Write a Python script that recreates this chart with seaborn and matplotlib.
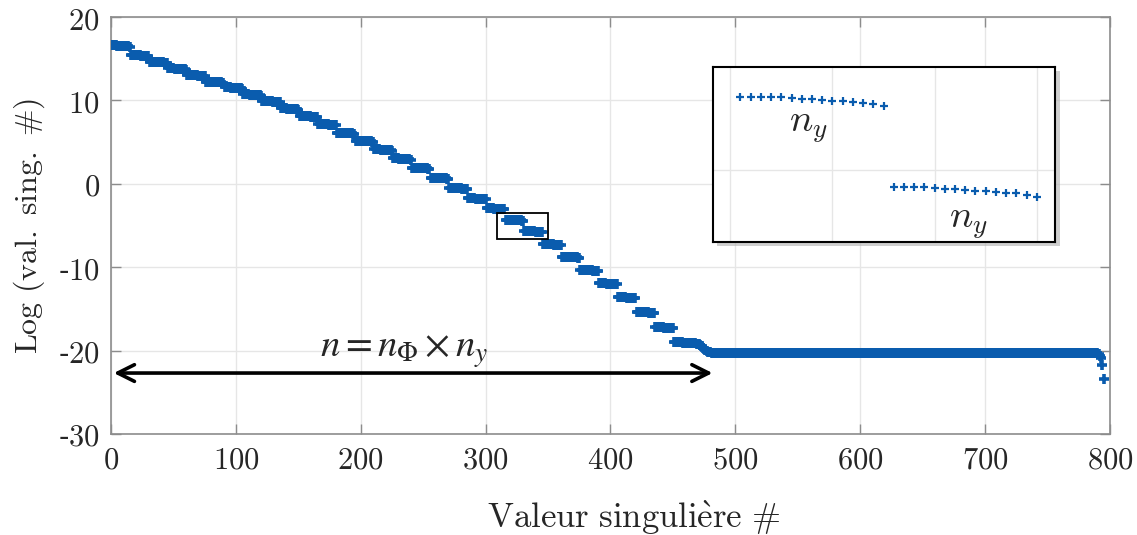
import numpy as np
import matplotlib
matplotlib.use('Agg')
import matplotlib.pyplot as plt
from matplotlib.patches import Rectangle
from matplotlib.ticker import FuncFormatter
import seaborn as sns

# level of each group of n_y = 15 singular values (first value of the group)
step_levels = [16.6, 15.44, 14.64, 13.85, 13.05, 12.25, 11.57, 10.73, 9.93, 9.05,
               8.13, 7.17, 6.13, 5.17, 4.13, 3.05, 1.93, 0.73, -0.50, -1.74,
               -2.94, -4.30, -5.66, -7.22, -8.74, -10.33, -11.93, -13.6, -15.37, -17.2,
               -19.0]
# small decrease inside one group
in_step_drop = [0.0, 0.0, 0.0, 0.0, -0.01, -0.02, -0.03, -0.04, -0.05, -0.06,
                -0.07, -0.08, -0.09, -0.11, -0.14]
# last group: bend down to the noise floor
transition = [-19.1, -19.12, -19.15, -19.18, -19.2, -19.25, -19.35, -19.5,
              -19.65, -19.8, -19.95, -20.05, -20.12, -20.17, -20.2]
floor_level = -20.25
n_floor = 309
tail = [-20.3, -20.4, -20.6, -20.9, -21.7, -23.4]

y = [lvl + d for lvl in step_levels for d in in_step_drop] + transition \
    + [floor_level] * n_floor + tail
x = np.arange(1, len(y) + 1)

zoom_groups = [21, 22]
zoom_box = (309, -6.6, 41, 3.1)

blue = '#0a5cae'
grey = '#8c8c8c'

sns.set_style('ticks')
plt.rcParams['mathtext.fontset'] = 'cm'
plt.rcParams['font.family'] = ['DejaVu Serif']

fig = plt.figure(figsize=(11.37, 5.35), dpi=100)
ax = fig.add_axes([0.0976, 0.189, 0.8786, 0.779])

sns.scatterplot(x=x, y=y, marker='+', s=52, linewidth=2.6, color=blue, ax=ax, zorder=3)

ax.set_xlim(0, 800)
ax.set_ylim(-30, 20)
ax.set_xticks(range(0, 801, 100))
ax.set_yticks(range(-30, 21, 10))


def fmt(v, _):
    v = int(v)
    return ('-' if v < 0 else '') + f'${abs(v)}$'


ax.xaxis.set_major_formatter(FuncFormatter(fmt))
ax.yaxis.set_major_formatter(FuncFormatter(fmt))
ax.tick_params(direction='in', length=7, width=1, color=grey, labelsize=22,
               top=True, right=True, pad=8)
ax.grid(True, color='#e6e6e6', lw=1)
for sp in ax.spines.values():
    sp.set_color(grey)
    sp.set_linewidth(1.2)

ax.set_xlabel(r'$\mathrm{Valeur\ singuli\grave{e}re\ \#}$', fontsize=25, labelpad=14)
ax.xaxis.set_label_coords(0.523, -0.155)
ax.set_ylabel(r'$\mathrm{Log\ (val.\ sing.\ \#)}$', fontsize=23, labelpad=8)

# double arrow for n = n_phi x n_y
ax.annotate('', xy=(0, -22.7), xytext=(484, -22.7),
            arrowprops=dict(arrowstyle='<->', lw=2.6, color='black', mutation_scale=30))
ax.text(235, -20.8, r'$n = n_\Phi \times n_y$', math_fontfamily='stix', fontsize=28,
        ha='center', va='baseline')

# small box around the zoomed region
ax.add_patch(Rectangle(zoom_box[:2], zoom_box[2], zoom_box[3], fill=False,
                       edgecolor='black', lw=1.3, zorder=4))

# inset
ins_rect = [0.627, 0.548, 0.301, 0.327]
fig.patches.append(Rectangle((ins_rect[0] + 0.004, ins_rect[1] - 0.008), ins_rect[2], ins_rect[3],
                             transform=fig.transFigure, facecolor='#b0b0b0', edgecolor='none',
                             alpha=0.6, zorder=1))
axi = fig.add_axes(ins_rect, zorder=2)
lo = zoom_groups[0] * 15
hi = (zoom_groups[-1] + 1) * 15
sns.scatterplot(x=x[lo:hi], y=y[lo:hi], marker='+', s=40, linewidth=1.6, color=blue,
                ax=axi, zorder=3)
axi.set_xlim(313.3, 346.8)
axi.set_ylim(-6.48, -3.85)
axi.set_xticks([315, 325, 335, 345])
axi.set_yticks([-5.4])
axi.tick_params(left=False, bottom=False, labelleft=False, labelbottom=False)
axi.grid(True, color='#e6e6e6', lw=1)
for sp in axi.spines.values():
    sp.set_color('black')
    sp.set_linewidth(1.5)
axi.text(0.278, 0.66, r'$n_y$', transform=axi.transAxes, fontsize=28, ha='center', va='center')
axi.text(0.746, 0.11, r'$n_y$', transform=axi.transAxes, fontsize=28, ha='center', va='center')

fig.savefig('out.png', dpi=100)
